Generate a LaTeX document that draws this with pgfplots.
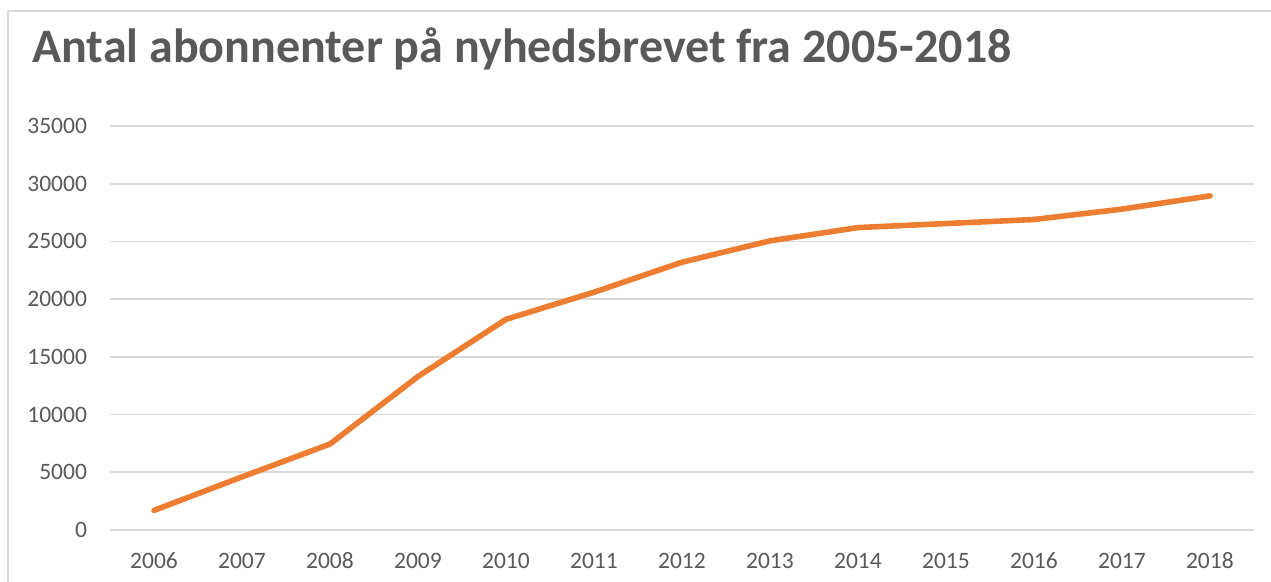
\documentclass[border=0pt]{standalone}
\usepackage{pgfplots}
\pgfplotsset{compat=1.18}
\usepackage{fontspec}
\setmainfont{Carlito}
\definecolor{txt}{HTML}{595959}
\definecolor{grd}{HTML}{D9D9D9}
\definecolor{org}{HTML}{ED7D31}
\begin{document}
\begin{tikzpicture}
\path[use as bounding box] (0,0) rectangle (635.5bp,-291bp);
\draw[grd, line width=0.75bp] (4bp,-291bp) -- (4bp,-5.5bp) -- (635.5bp,-5.5bp);
\node[anchor=base west, inner sep=0pt, text=txt, font=\fontsize{24.1}{28}\selectfont\bfseries] at (16bp,-31bp) {Antal abonnenter på nyhedsbrevet fra 2005-2018};
\begin{axis}[
  at={(55bp,-265bp)}, anchor=south west,
  scale only axis, width=572bp, height=202bp,
  xmin=2005.5, xmax=2018.5, ymin=0, ymax=35000,
  xtick={2006,...,2018}, ytick={0,5000,...,35000},
  /pgf/number format/.cd, 1000 sep={}, assume math mode=true, /pgfplots/.cd,
  scaled y ticks=false,
  axis line style={draw=none}, tick style={draw=none},
  ymajorgrids, major grid style={grd, line width=0.8bp},
  tick label style={text=txt, font=\fontsize{11.8}{14}\selectfont},
  yticklabel style={xshift=-8bp},
  xticklabel style={yshift=-7.5bp, text height=8bp, text depth=0pt},
  clip=false,
]
\addplot[org, line width=2.8bp, line cap=round, line join=round] coordinates {
(2006,1700) (2007,4600) (2008,7450) (2009,13300) (2010,18250) (2011,20600)
(2012,23200) (2013,25050) (2014,26200) (2015,26550) (2016,26900) (2017,27800) (2018,28950)
};
\end{axis}
\end{tikzpicture}
\end{document}
